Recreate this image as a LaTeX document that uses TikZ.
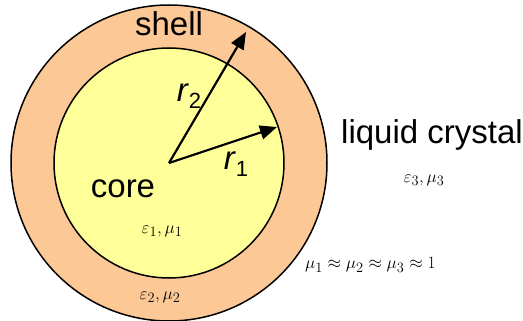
\documentclass[tikz,border=0pt]{standalone}
\usepackage{fontspec}
\setmainfont{Liberation Sans}
\usetikzlibrary{arrows.meta}
\definecolor{shellc}{HTML}{FCC896}
\definecolor{corec}{HTML}{FFFF99}
\tikzset{
  ring/.style={draw=black, line width=1.5pt},
  radius arrow/.style={line width=2.2pt, -{Triangle[length=17pt,width=14pt]}},
  bigtext/.style={font=\fontsize{33}{36}\selectfont, inner sep=0pt},
  mathtext/.style={font=\fontsize{19}{22}\selectfont, inner sep=0pt},
}
\newcommand{\rlab}[1]{\textit{r}\raisebox{-0.35ex}{\fontsize{22}{22}\selectfont #1}}
\begin{document}
\begin{tikzpicture}[x=1pt,y=-1pt]
\useasboundingbox (0,0) rectangle (523,321);
\coordinate (c) at (169,163);
\fill[shellc] (c) circle[radius=158];
\draw[ring] (c) circle[radius=158];
\fill[corec] (c) circle[radius=115];
\draw[ring] (c) circle[radius=115];
\coordinate (t2) at (246,32);
\coordinate (t1) at (277,127);
\draw[radius arrow] (c) -- (t2);
\draw[radius arrow] (c) -- (t1);
\node[bigtext, anchor=base] (shell) at (169,36) {shell};
\node[bigtext, anchor=base] (core) at (123,197) {core};
\node[bigtext, anchor=base west] (lc) at (341,143) {liquid crystal};
\node[bigtext, anchor=base] (r2) at (189,102) {\rlab{2}};
\node[bigtext, anchor=base] (r1) at (236,170) {\rlab{1}};
\node[mathtext] (e1) at (162,231) {$\varepsilon_1,\mu_1$};
\node[mathtext] (e2) at (160,297) {$\varepsilon_2,\mu_2$};
\node[mathtext] (e3) at (424,180) {$\varepsilon_3,\mu_3$};
\node[mathtext, anchor=west] (mu) at (305,265) {$\mu_1\approx\mu_2\approx\mu_3\approx1$};
\end{tikzpicture}
\end{document}
